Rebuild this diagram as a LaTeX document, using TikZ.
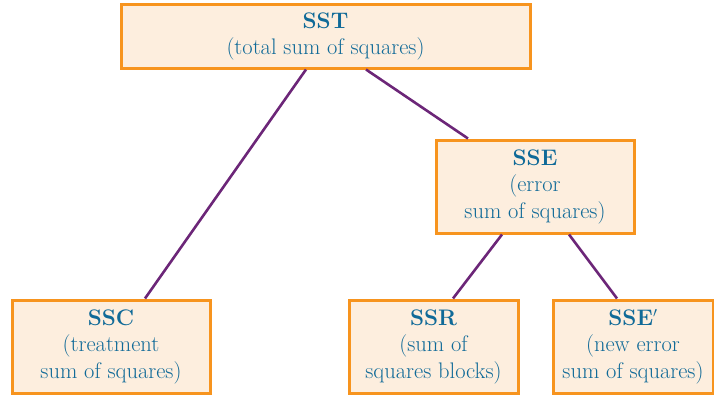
\documentclass[tikz,border=0pt]{standalone}
\usepackage{fontspec}
\usepackage{tikz}
\usetikzlibrary{calc}

\begin{document}
\begin{tikzpicture}[x=1pt,y=-1pt,font=\fontsize{22.5}{26.5}\selectfont]
      \definecolor{cBox}{RGB}{247,148,30}
      \definecolor{cFill}{RGB}{253,238,222}
      \definecolor{cTxt}{RGB}{16,106,152}
      \definecolor{cLink}{RGB}{108,38,120}
      \tikzset{
        sumbox/.style={draw=cBox,fill=cFill,line width=3pt,text=cTxt,
          align=center,inner sep=0pt,anchor=center},
        link/.style={cLink,line width=2.6pt}
      }
      \useasboundingbox (0,0) rectangle (714,396);
      \node[sumbox,minimum width=409pt,minimum height=63pt] (sst) at (325.5,36.5)
        {\textbf{SST}\\(total sum of squares)};
      \node[sumbox,minimum width=198pt,minimum height=93pt] (sse) at (535,186.5)
        {\textbf{SSE}\\(error\\sum of squares)};
      \node[sumbox,minimum width=198pt,minimum height=93pt] (ssc) at (111,346.5)
        {\textbf{SSC}\\(treatment\\sum of squares)};
      \node[sumbox,minimum width=169pt,minimum height=93pt] (ssr) at (433.5,346.5)
        {\textbf{SSR}\\(sum of\\squares blocks)};
      \node[sumbox,minimum width=160pt,minimum height=93pt] (ssenew) at (633,346.5)
        {\textbf{SSE$'$}\\(new error\\sum of squares)};
      % connectors
      \draw[link] ([xshift=-19.5pt]sst.south) -- ([xshift=34pt]ssc.north);
      \draw[link] ([xshift=40.5pt]sst.south) -- ([xshift=-67pt]sse.north);
      \draw[link] ([xshift=-33pt]sse.south) -- ([xshift=19.5pt]ssr.north);
      \draw[link] ([xshift=34pt]sse.south) -- ([xshift=-16pt]ssenew.north);
    \end{tikzpicture}
\end{document}
